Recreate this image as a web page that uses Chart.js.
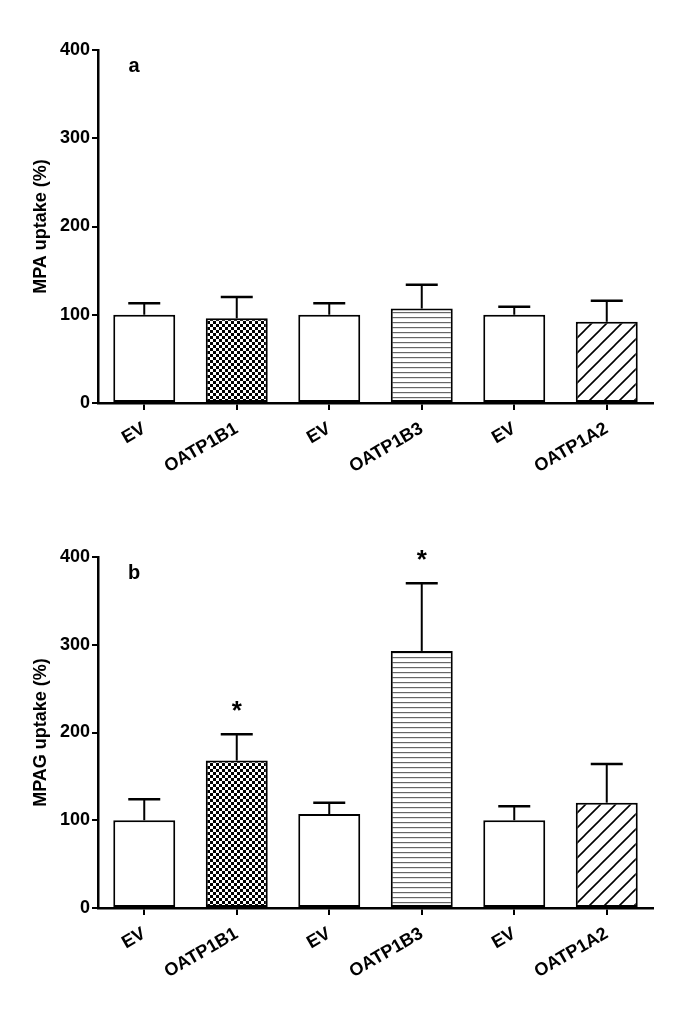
<!DOCTYPE html>
<html>
<head>
<meta charset="utf-8">
<script src="https://cdn.jsdelivr.net/npm/chart.js@4.4.0/dist/chart.umd.min.js"></script>
<style>
    body { margin: 0; background: #fff; }
    .panel { position: absolute; left: 0; width: 682px; height: 505px; }
</style>
</head>
<body>
<div class="panel" style="top:0"><canvas id="chart-a"></canvas></div>
<div class="panel" style="top:505px"><canvas id="chart-b"></canvas></div>
<script>
const categories = ['EV', 'OATP1B1', 'EV', 'OATP1B3', 'EV', 'OATP1A2'];
const fills = ['white', 'checker', 'white', 'lines', 'white', 'hatch'];
const yTicks = [0, 100, 200, 300, 400];

const mpaMeans = [100, 96, 100, 107, 100, 92];
const mpaErrors = [13, 24, 13, 27, 9, 24];

const mpagMeans = [100, 168, 107, 293, 100, 120];
const mpagErrors = [24, 30, 13, 77, 16, 44];
const mpagStars = ['', '*', '', '*', '', ''];

const FONT = 'Liberation Sans, Arial, sans-serif';

function makePattern(kind) {
    const c = document.createElement('canvas');
    const g = c.getContext('2d');
    if (kind === 'checker') {
        c.width = 6; c.height = 6;
        g.fillStyle = '#fff'; g.fillRect(0, 0, 6, 6);
        g.fillStyle = '#000';
        g.fillRect(0, 0, 3, 3);
        g.fillRect(3, 3, 3, 3);
    } else if (kind === 'lines') {
        c.width = 4; c.height = 5;
        g.fillStyle = '#fff'; g.fillRect(0, 0, 4, 5);
        g.fillStyle = '#666';
        g.fillRect(0, 2, 4, 1.2);
    } else if (kind === 'hatch') {
        const s = 15;
        c.width = s; c.height = s;
        g.fillStyle = '#fff'; g.fillRect(0, 0, s, s);
        g.strokeStyle = '#000';
        g.lineWidth = 1.6;
        g.beginPath();
        g.moveTo(0, s); g.lineTo(s, 0);
        g.moveTo(-2, 2); g.lineTo(2, -2);
        g.moveTo(s - 2, s + 2); g.lineTo(s + 2, s - 2);
        g.stroke();
    } else {
        return '#fff';
    }
    return g.createPattern(c, 'repeat');
}

const barFills = fills.map(makePattern);

// error bars (upper only) and significance stars
const errorBarPlugin = {
    id: 'errorBars',
    afterDatasetsDraw(chart, args, opts) {
        const ctx = chart.ctx;
        const yScale = chart.scales.y;
        const meta = chart.getDatasetMeta(0);
        const means = chart.data.datasets[0].data;
        ctx.save();
        ctx.strokeStyle = '#000';
        ctx.lineWidth = 2;
        meta.data.forEach((bar, i) => {
            const top = yScale.getPixelForValue(means[i] + opts.errors[i]);
            ctx.beginPath();
            ctx.moveTo(bar.x, bar.y);
            ctx.lineTo(bar.x, top);
            ctx.stroke();
            ctx.lineWidth = 2.5;
            ctx.beginPath();
            ctx.moveTo(bar.x - 16, top);
            ctx.lineTo(bar.x + 16, top);
            ctx.stroke();
            ctx.lineWidth = 2;
            if (opts.stars && opts.stars[i]) {
                ctx.fillStyle = '#000';
                ctx.font = 'bold 26px ' + FONT;
                ctx.textAlign = 'center';
                ctx.textBaseline = 'middle';
                ctx.fillText(opts.stars[i], bar.x, top - 22);
            }
        });
        ctx.restore();
    }
};

const panelLabelPlugin = {
    id: 'panelLabel',
    afterDraw(chart, args, opts) {
        const ctx = chart.ctx;
        ctx.save();
        ctx.fillStyle = '#000';
        ctx.font = 'bold 20px ' + FONT;
        ctx.textAlign = 'center';
        ctx.textBaseline = 'middle';
        ctx.fillText(opts.text, chart.chartArea.left + 36, chart.chartArea.top + 16);
        ctx.restore();
    }
};

function renderPanel(canvasId, means, errors, stars, yTitle, label, topPad) {
    const ctx = document.getElementById(canvasId).getContext('2d');
    return new Chart(ctx, {
        type: 'bar',
        data: {
            labels: categories,
            datasets: [{
                data: means,
                backgroundColor: barFills,
                borderColor: '#000',
                borderWidth: 2,
                borderSkipped: false,
                barPercentage: 0.67,
                categoryPercentage: 1
            }]
        },
        plugins: [errorBarPlugin, panelLabelPlugin],
        options: {
            responsive: true,
            maintainAspectRatio: false,
            animation: false,
            layout: { padding: { top: topPad, right: 29, left: 0, bottom: 0 } },
            plugins: {
                legend: { display: false },
                tooltip: { enabled: false },
                errorBars: { errors: errors, stars: stars },
                panelLabel: { text: label }
            },
            scales: {
                x: {
                    afterFit: (scale) => { scale.height = 102; },
                    grid: {
                        offset: false,
                        drawOnChartArea: false,
                        drawTicks: true,
                        tickLength: 7,
                        color: '#000',
                        lineWidth: 2
                    },
                    border: { display: true, color: '#000', width: 2.5 },
                    ticks: {
                        color: '#000',
                        minRotation: 30,
                        maxRotation: 30,
                        padding: 8,
                        font: { family: FONT, size: 18, weight: 'bold' }
                    }
                },
                y: {
                    min: 0,
                    max: 400,
                    afterFit: (scale) => { scale.width = 98; },
                    afterBuildTicks: (scale) => { scale.ticks = yTicks.map(v => ({ value: v })); },
                    grid: {
                        drawOnChartArea: false,
                        drawTicks: true,
                        tickLength: 6,
                        color: '#000',
                        lineWidth: 2
                    },
                    border: { display: true, color: '#000', width: 2.5 },
                    ticks: {
                        color: '#000',
                        padding: 2,
                        font: { family: FONT, size: 18, weight: 'bold' }
                    },
                    title: {
                        display: true,
                        text: yTitle,
                        color: '#000',
                        padding: { top: 30 },
                        font: { family: FONT, size: 18, weight: 'bold' }
                    }
                }
            }
        }
    });
}

renderPanel('chart-a', mpaMeans, mpaErrors, null, 'MPA uptake (%)', 'a', 50);
renderPanel('chart-b', mpagMeans, mpagErrors, mpagStars, 'MPAG uptake (%)', 'b', 52);
</script>
</body>
</html>
